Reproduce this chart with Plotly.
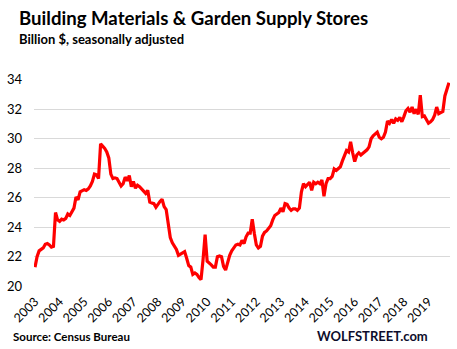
import plotly.graph_objects as go

years = [str(y) for y in range(2003, 2020)]

sales_2003 = [21.3, 22.0, 22.4, 22.5, 22.6, 22.85, 22.9, 22.8, 22.65, 22.7, 25.0, 24.5]
sales_2004 = [24.4, 24.55, 24.5, 24.6, 24.9, 24.8, 25.1, 25.3, 26.05, 25.85, 26.4, 26.5]
sales_2005 = [26.55, 26.5, 26.6, 26.8, 27.1, 27.6, 27.55, 27.3, 29.65, 29.5, 29.35, 29.1]
sales_2006 = [28.7, 27.6, 27.3, 27.35, 27.3, 27.05, 26.8, 26.95, 27.4, 27.15, 27.5, 26.75]
sales_2007 = [27.1, 26.65, 26.85, 26.75, 26.6, 26.5, 26.3, 26.5, 25.7, 25.65, 25.6, 25.35]
sales_2008 = [25.6, 25.75, 25.9, 25.4, 25.2, 24.4, 23.3, 22.95, 22.75, 22.5, 22.1, 22.2]
sales_2009 = [22.3, 22.35, 21.9, 21.4, 21.3, 20.8, 20.9, 20.8, 20.6, 20.45, 21.8, 23.5]
sales_2010 = [21.7, 21.6, 21.45, 21.3, 21.3, 22.0, 22.05, 22.0, 21.35, 21.1, 21.7, 22.1]
sales_2011 = [22.4, 22.6, 22.8, 22.85, 22.8, 23.1, 22.9, 23.35, 23.6, 23.6, 24.55, 23.6]
sales_2012 = [22.8, 22.6, 22.7, 23.4, 23.65, 23.75, 23.9, 24.1, 24.5, 24.8, 24.9, 25.0]
sales_2013 = [25.3, 25.05, 25.6, 25.55, 25.3, 25.15, 25.25, 25.25, 25.15, 25.3, 26.4, 26.95]
sales_2014 = [26.75, 26.9, 27.05, 26.5, 27.05, 26.95, 27.05, 26.95, 27.2, 26.1, 26.95, 27.3]
sales_2015 = [27.3, 27.45, 27.95, 27.85, 28.0, 28.1, 28.5, 28.9, 29.2, 29.1, 29.8, 29.05]
sales_2016 = [28.45, 28.9, 29.05, 28.9, 29.0, 29.15, 29.25, 29.45, 30.0, 30.2, 30.35, 30.45]
sales_2017 = [30.1, 30.0, 30.1, 30.45, 31.2, 31.05, 31.3, 31.05, 31.35, 31.25, 31.45, 31.15]
sales_2018 = [31.5, 31.9, 32.05, 31.8, 32.15, 31.7, 32.0, 31.65, 32.95, 31.5, 31.55, 31.3]
sales_2019 = [31.05, 31.15, 31.3, 31.6, 32.15, 31.7, 31.75, 31.85, 32.9, 33.4, 33.8]

sales = (sales_2003 + sales_2004 + sales_2005 + sales_2006 + sales_2007 + sales_2008
         + sales_2009 + sales_2010 + sales_2011 + sales_2012 + sales_2013 + sales_2014
         + sales_2015 + sales_2016 + sales_2017 + sales_2018 + sales_2019)
months = list(range(len(sales)))
year_ticks = [12 * i for i in range(len(years))]

W, H = 457, 349
L, R, T, B = 30, 7, 79, 62
pw, ph = W - L - R, H - T - B

def px(x):
    return (x - L) / pw

def py(y):
    return (H - B - y) / ph

fig = go.Figure()
fig.add_trace(go.Scatter(x=months, y=sales, mode="lines",
                         line=dict(color="#FF0000", width=3.2),
                         hoverinfo="skip", showlegend=False))

fig.update_layout(
    width=W, height=H,
    margin=dict(l=L, r=R, t=T, b=B, pad=0),
    paper_bgcolor="white", plot_bgcolor="white",
    font=dict(family="Lato", color="#000000"),
    xaxis=dict(range=[-0.5, len(sales) - 0.5], tickmode="array",
               tickvals=year_ticks, ticktext=years, tickangle=-45,
               showgrid=False, zeroline=False, showline=False, ticks="",
               ticklabelstandoff=4,
               tickfont=dict(size=12.5, color="#000000")),
    yaxis=dict(range=[19.95, 34.05], tickmode="array",
               tickvals=[20, 22, 24, 26, 28, 30, 32, 34],
               showgrid=True, gridcolor="#D9D9D9", gridwidth=1,
               zeroline=False, showline=False, ticks="",
               ticklabelstandoff=11,
               tickfont=dict(size=13, color="#000000")),
)

ann = [
    dict(text="<b>Building Materials & Garden Supply Stores</b>", x=px(13), y=py(18),
         xanchor="left", yanchor="middle", font=dict(size=18.6)),
    dict(text="<b>Billion $, seasonally adjusted</b>", x=px(13), y=py(39),
         xanchor="left", yanchor="middle", font=dict(size=13)),
    dict(text="<b>Source: Census Bureau</b>", x=px(7), y=py(336),
         xanchor="left", yanchor="middle", font=dict(size=11.5)),
    dict(text="<b>WOLFSTREET.com</b>", x=px(430), y=py(336),
         xanchor="right", yanchor="middle", font=dict(size=13, color="#0D0D2B")),
]
for a in ann:
    a.update(xref="paper", yref="paper", showarrow=False)
    fig.add_annotation(**a)

fig.write_html("out.html")
